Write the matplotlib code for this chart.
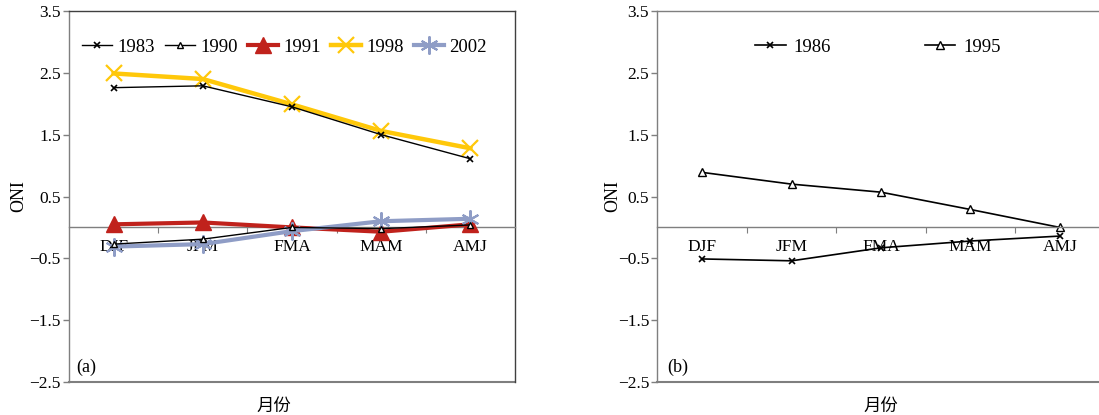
import matplotlib.pyplot as plt  # plotting library

plt.rcParams['font.family'] = ['Liberation Serif', 'Noto Sans CJK SC', 'DejaVu Sans']

# data
months = ['DJF', 'JFM', 'FMA', 'MAM', 'AMJ']
oni_1983 = [2.26, 2.29, 1.95, 1.50, 1.11]
oni_1990 = [-0.27, -0.19, 0.00, -0.02, 0.04]
oni_1991 = [0.05, 0.08, 0.00, -0.07, 0.05]
oni_1998 = [2.49, 2.40, 1.99, 1.56, 1.28]
oni_2002 = [-0.31, -0.27, -0.06, 0.10, 0.14]
oni_1986 = [-0.51, -0.54, -0.33, -0.22, -0.14]
oni_1995 = [0.89, 0.70, 0.57, 0.29, 0.00]
yticks = [-2.5, -1.5, -0.5, 0.5, 1.5, 2.5, 3.5]

W, H = 1099, 415
fig = plt.figure(figsize=(W / 100, H / 100), dpi=100)

frame_col = '#7f7f7f'
x = list(range(len(months)))


def make_axes(left_px, width_px, ylab_x, xlab_x):
    ax = fig.add_axes([left_px / W, 33 / H, width_px / W, 371 / H])
    ax.set_xlim(-0.5, len(months) - 0.5)
    ax.set_ylim(-2.5, 3.5)
    ax.set_yticks(yticks)
    ax.set_yticklabels([f'{v:.1f}'.replace('-', '\u2212') for v in yticks])
    ax.tick_params(axis='y', direction='out', length=4, width=1, color=frame_col,
                   labelsize=12.5, pad=2)
    for s in ax.spines.values():
        s.set_color(frame_col)
        s.set_linewidth(1)
    # category axis crosses at zero, frame bottom drawn separately
    ax.spines['bottom'].set_position(('data', 0))
    ax.axhline(-2.5, color=frame_col, lw=1.5, clip_on=False, zorder=1)
    ax.set_xticks([i + 0.5 for i in range(len(months) - 1)])
    ax.set_xticklabels([])
    ax.set_xticks(x, minor=True)
    ax.set_xticklabels(months, minor=True)
    ax.tick_params(axis='x', which='major', direction='out', length=4, color=frame_col)
    ax.tick_params(axis='x', which='minor', length=0, labelsize=12.5, pad=8)
    ax.set_ylabel('ONI', fontsize=13)
    ax.yaxis.set_label_coords(ylab_x, 0.5)
    ax.set_xlabel('月份', fontsize=12.5, family=['Noto Sans CJK SC'])
    ax.xaxis.set_label_coords(xlab_x, -0.04)
    return ax


# panel (a)
ax1 = make_axes(69, 446, -0.093, 0.46)
ax1.spines['right'].set_color('#404040')
ax1.spines['top'].set_color('#404040')
ax1.plot(x, oni_1983, color='black', lw=1, marker='x', ms=5, mew=1.2, label='1983', zorder=5)
ax1.plot(x, oni_1990, color='black', lw=1, marker='^', ms=5, mfc='white', mew=1, label='1990', zorder=5)
ax1.plot(x, oni_1991, color='#C0221C', lw=3, marker='^', ms=11, label='1991', zorder=3)
ax1.plot(x, oni_1998, color='#FFC80A', lw=3.2, marker='x', ms=12, mew=1.6, label='1998', zorder=3)
ax1.plot(x, oni_2002, color='#8F9DC6', lw=3, marker=(6, 2, 0), ms=13, mew=1.5, label='2002', zorder=4)
ax1.legend(loc='center left', bbox_to_anchor=(0.029, 0.903), ncol=5, frameon=False,
           fontsize=13.5, handlelength=1.6, handletextpad=0.28, columnspacing=0.55,
           borderaxespad=0, borderpad=0)
ax1.text(0.016, 0.015, '(a)', transform=ax1.transAxes, fontsize=13, ha='left', va='bottom')

# panel (b), right side runs past the picture edge
ax2 = make_axes(657.5, 447, -0.082, 0.5)
ax2.plot(x, oni_1986, color='black', lw=1.2, marker='x', ms=5, mew=1.2, label='1986')
ax2.plot(x, oni_1995, color='black', lw=1.2, marker='^', ms=6, mfc='white', mew=1, label='1995')
ax2.legend(loc='center left', bbox_to_anchor=(0.218, 0.903), ncol=2, frameon=False,
           fontsize=13.5, handlelength=1.65, handletextpad=0.4, columnspacing=5.0,
           borderaxespad=0, borderpad=0)
ax2.text(0.022, 0.015, '(b)', transform=ax2.transAxes, fontsize=13, ha='left', va='bottom')

fig.savefig('out.png', dpi=100)
